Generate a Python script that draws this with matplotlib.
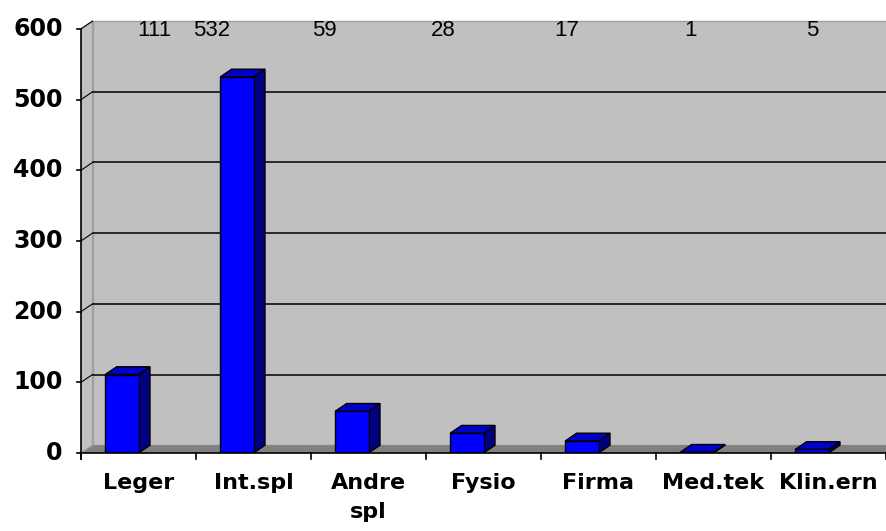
import matplotlib.pyplot as plt
from matplotlib.patches import Polygon

# Data jumlah per kategori
kategori = ['Leger', 'Int.spl', 'Andre\nspl', 'Fysio', 'Firma', 'Med.tek', 'Klin.ern']
nilai = [111, 532, 59, 28, 17, 1, 5]
y_ticks = [0, 100, 200, 300, 400, 500, 600]

# Posisi teks nilai di atas (geser dari tengah kategori, sama seperti gambar asli)
geser_label = [0.14, -0.36, -0.38, -0.35, -0.28, -0.20, -0.14]

# Efek 3D: kedalaman dalam satuan data
dx, dy = 0.1, 11
lebar = 0.29
x_kiri, x_kanan = -0.5, 6.5

fig = plt.figure(figsize=(8.86, 5.31), dpi=100)
ax = fig.add_axes([81 / 886, 78 / 531, 805 / 886, 434 / 531])
ax.set_xlim(x_kiri, x_kanan)
ax.set_ylim(0, 614)
ax.axis('off')

# Dinding belakang, dinding samping dan lantai
ax.add_patch(Polygon([(x_kiri + dx, dy), (x_kanan + 1, dy), (x_kanan + 1, 600 + dy), (x_kiri + dx, 600 + dy)],
                     closed=True, facecolor='#c0c0c0', edgecolor='#a0a0a0', lw=1, zorder=1))
ax.add_patch(Polygon([(x_kiri, 0), (x_kiri, 600), (x_kiri + dx, 600 + dy), (x_kiri + dx, dy)],
                     closed=True, facecolor='#c0c0c0', edgecolor='#a0a0a0', lw=1, zorder=1))
ax.add_patch(Polygon([(x_kiri, 0), (x_kanan + 1, 0), (x_kanan + 1, dy), (x_kiri + dx, dy)],
                     closed=True, facecolor='#808080', edgecolor='#808080', lw=0.5, zorder=2))

# Garis bantu di dinding
for v in y_ticks[1:-1]:
    ax.plot([x_kiri + dx, x_kanan + 1], [v + dy, v + dy], color='black', lw=1.1, zorder=2, clip_on=False)
for v in y_ticks[1:]:
    ax.plot([x_kiri, x_kiri + dx], [v, v + dy], color='black', lw=0.8, zorder=2)

# Batang 3D
for i, v in enumerate(nilai):
    x0, x1 = i - lebar, i
    ax.add_patch(Polygon([(x1, 0), (x1 + dx, dy), (x1 + dx, v + dy), (x1, v)],
                         closed=True, facecolor='#000080', edgecolor='black', lw=1, zorder=3))
    ax.add_patch(Polygon([(x0, v), (x1, v), (x1 + dx, v + dy), (x0 + dx, v + dy)],
                         closed=True, facecolor='#0000c8', edgecolor='black', lw=1, zorder=3))
    ax.add_patch(Polygon([(x0, 0), (x1, 0), (x1, v), (x0, v)],
                         closed=True, facecolor='#0000ff', edgecolor='black', lw=1, zorder=4))
    ax.text(i + geser_label[i], 598, str(v), ha='center', va='center',
            fontsize=16, family='Liberation Sans', zorder=5)

# Sumbu Y dan X
ax.plot([x_kiri, x_kiri], [-8, 600], color='black', lw=1.2, zorder=6, clip_on=False)
ax.plot([x_kiri, x_kanan], [0, 0], color='black', lw=1.2, zorder=6, clip_on=False)
for v in y_ticks:
    ax.plot([x_kiri - 0.035, x_kiri], [v, v], color='black', lw=1.2, zorder=6, clip_on=False)
    ax.text(x_kiri - 0.16, v, str(v), ha='right', va='center', fontsize=17,
            fontweight='bold', family='DejaVu Sans')
for j in range(len(kategori) + 1):
    ax.plot([j - 0.5, j - 0.5], [0, -8], color='black', lw=1.2, zorder=6, clip_on=False)
for i, k in enumerate(kategori):
    ax.text(i, -28, k, ha='center', va='top', fontsize=16, fontweight='bold',
            family='DejaVu Sans', linespacing=1.6)

plt.savefig('out.png', dpi=100)
